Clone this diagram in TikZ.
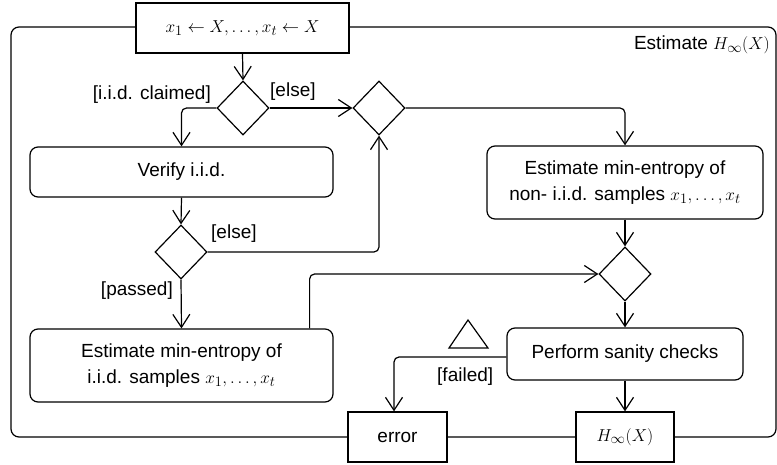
\documentclass[tikz,border=0pt]{standalone}
\usepackage{fontspec}
\setmainfont{Liberation Sans}
\usetikzlibrary{arrows.meta,shapes.geometric}

\tikzset{
  txt/.style={font=\fontsize{19}{25.5}\selectfont, text=black},
  ln/.style={line width=1.2pt, draw=black},
  action/.style={txt, ln, fill=white, rectangle, rounded corners=8pt,
    inner sep=0pt, align=center},
  objbox/.style={txt, ln, fill=white, rectangle, inner sep=0pt},
  decision/.style={ln, fill=white, diamond, inner sep=0pt,
    minimum width=52pt, minimum height=54pt},
  flow/.style={ln, rounded corners=5pt,
    -{Straight Barb[length=13pt,width=17pt,line width=1.2pt]}},
  guard/.style={txt, inner sep=0pt},
}

\begin{document}
\begin{tikzpicture}[x=1pt,y=-1pt]
\useasboundingbox (0,0) rectangle (777,465);

% activity frame
\draw[ln, rounded corners=8pt] (11,27) rectangle (776,437);
\node[guard, anchor=east] (title) at (770,45) {Estimate $H_\infty(X)$};

% object nodes on the frame
\node[objbox, minimum width=213pt, minimum height=50pt] (input) at (242.5,28)
  {$x_1 \leftarrow X, \dots, x_t \leftarrow X$};
\node[objbox, minimum width=99pt, minimum height=50pt] (error) at (397.5,437) {error};
\node[objbox, minimum width=98pt, minimum height=50pt] (result) at (625,437) {$H_\infty(X)$};

% decisions
\node[decision] (d1) at (243,108) {};
\node[decision] (d2) at (379,108) {};
\node[decision] (d3) at (181,252) {};
\node[decision] (d4) at (625,274) {};

% actions
\node[action, minimum width=303pt, minimum height=50pt] (verify) at (181.5,172) {Verify i.i.d.};
\node[action, minimum width=303pt, minimum height=73pt] (iid) at (181.5,365.5)
  {Estimate min-entropy of\\ i.i.d. samples $x_1, \dots, x_t$};
\node[action, minimum width=276pt, minimum height=73pt] (noniid) at (625,182.5)
  {Estimate min-entropy of\\ non- i.i.d. samples $x_1, \dots, x_t$};
\node[action, minimum width=236pt, minimum height=52pt] (sanity) at (625,354) {Perform sanity checks};

% warning triangle
\draw[ln, line join=miter] (449,348) -- (468,320) -- (488,348) -- cycle;

% control flow
\draw[flow] (input.south) -- (d1.north);
\draw[flow] (d1.west) -| (verify.north);
\draw[flow] (d1.east) -- (d2.west);
\draw[flow] (d2.east) -| (noniid.north);
\draw[flow] (verify.south) -- (d3.north);
\draw[flow] (d3.east) -| (d2.south);
\draw[flow] (d3.south) -- (iid.north);
\draw[flow] ([xshift=-24pt]iid.north east) |- (d4.west);
\draw[flow] (noniid.south) -- (d4.north);
\draw[flow] (d4.south) -- (sanity.north);
\draw[flow] ([yshift=-3pt]sanity.west) -| ([xshift=-3.5pt]error.north);
\draw[flow] (sanity.south) -- (result.north);

% guards
\node[guard, anchor=east] (gclaimed) at (211,95) {[i.i.d. claimed]};
\node[guard, anchor=west] (gelse1) at (270,92) {[else]};
\node[guard, anchor=west] (gelse2) at (211,234) {[else]};
\node[guard, anchor=east] (gpassed) at (173,291) {[passed]};
\node[guard, anchor=west] (gfailed) at (437,377) {[failed]};
\end{tikzpicture}
\end{document}
